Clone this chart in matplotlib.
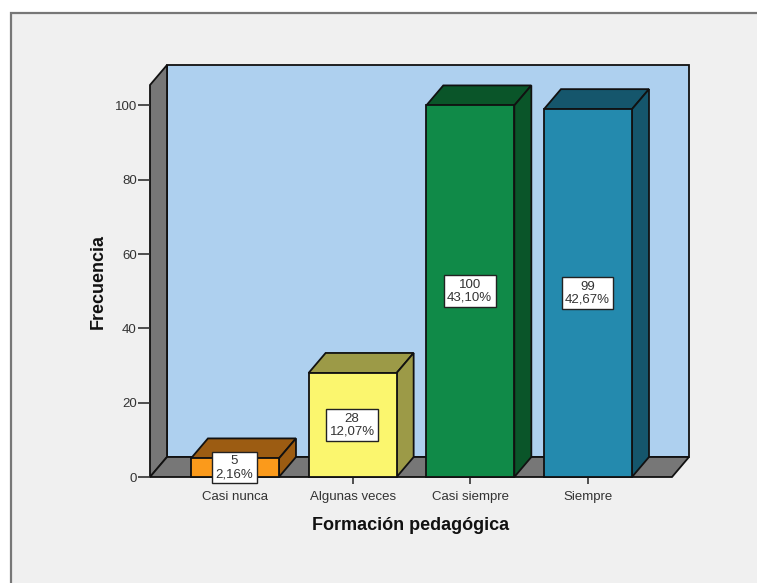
import matplotlib
matplotlib.use("Agg")
import matplotlib.pyplot as plt
from matplotlib.patches import Polygon, Rectangle

plt.rcParams['font.family'] = ['Liberation Sans', 'DejaVu Sans']

# --- Data ---
categories = ['Casi nunca', 'Algunas veces', 'Casi siempre', 'Siempre']
counts = [5, 28, 100, 99]
percents = ['2,16%', '12,07%', '43,10%', '42,67%']
y_ticks = [0, 20, 40, 60, 80, 100]

front_colors = ['#fb9a1b', '#fbf66e', '#108a48', '#248aae']
side_colors = ['#9c5c12', '#9c9a47', '#0a5529', '#15566c']

W, H = 757, 583
DPI = 100

# front plane of the 3D box, in pixels of the picture
LEFT, RIGHT, BASE, TOP = 150, 672, 477, 85
XMIN, XMAX = -0.722, 3.714
YMAX = 105.5
DX = 17 / 117.67   # depth, in x units
DY = 20 / 3.715    # depth, in y units
BAR_W = 0.748

fig = plt.figure(figsize=(W / DPI, H / DPI), dpi=DPI, facecolor='white')

# grey panel with its border, behind the axes
fig.add_artist(Rectangle((10.5 / W, -0.01), 1.0, 1 - 12.5 / H + 0.01, transform=fig.transFigure,
                         facecolor='#f0f0f0', edgecolor='#777777', linewidth=1.6, zorder=-1))

ax = fig.add_axes([LEFT / W, 1 - BASE / H, (RIGHT - LEFT) / W, (BASE - TOP) / H])
ax.set_xlim(XMIN, XMAX)
ax.set_ylim(0, YMAX)
ax.patch.set_visible(False)
for s in ax.spines.values():
    s.set_visible(False)


def poly(pts, color, z=2, lw=1.3, edge='#111111'):
    ax.add_patch(Polygon(pts, closed=True, facecolor=color, edgecolor=edge,
                         linewidth=lw, zorder=z, clip_on=False, joinstyle='miter'))


# walls and floor
poly([(XMIN + DX, DY), (XMAX + DX, DY), (XMAX + DX, YMAX + DY), (XMIN + DX, YMAX + DY)], '#aed0ef', z=1)
poly([(XMIN, 0), (XMIN + DX, DY), (XMIN + DX, YMAX + DY), (XMIN, YMAX)], '#777777', z=1)
poly([(XMIN, 0), (XMAX, 0), (XMAX + DX, DY), (XMIN + DX, DY)], '#777777', z=1)

# bars
for i, val in enumerate(counts):
    x0 = i - BAR_W / 2
    x1 = i + BAR_W / 2
    poly([(x0, val), (x0 + DX, val + DY), (x1 + DX, val + DY), (x1, val)], side_colors[i], z=3)
    poly([(x1, 0), (x1 + DX, DY), (x1 + DX, val + DY), (x1, val)], side_colors[i], z=3)
    poly([(x0, 0), (x1, 0), (x1, val), (x0, val)], front_colors[i], z=4)
    ax.text(i - 0.005, val / 2, f"{val}\n{percents[i]}", ha='center', va='center', fontsize=9.5,
            color='#333333', linespacing=1.1, zorder=6, clip_on=False,
            bbox=dict(boxstyle='square,pad=0.25', facecolor='white', edgecolor='#222222', linewidth=1))

# axes
ax.set_xticks(range(len(categories)))
ax.set_xticklabels(categories, fontsize=9.5, color='#333333')
ax.set_yticks(y_ticks)
ax.tick_params(axis='y', length=9, width=1.2, color='#333333', labelsize=9.5, labelcolor='#333333', pad=0.5)
ax.tick_params(axis='x', length=5, width=1.2, color='#333333', pad=5)

fig.text(411 / W, 1 - 525 / H, 'Formación pedagógica', ha='center', va='center',
         fontsize=13, fontweight='bold', color='#111111')
fig.text(98 / W, 1 - 281 / H, 'Frecuencia', ha='center', va='center', rotation=90,
         fontsize=13, fontweight='bold', color='#111111')

fig.savefig('out.png', dpi=DPI, facecolor=fig.get_facecolor())
